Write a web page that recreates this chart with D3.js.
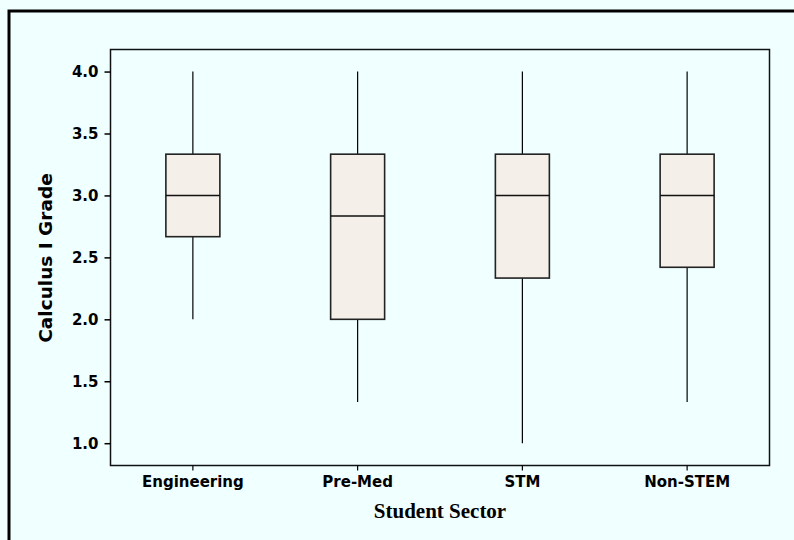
<!DOCTYPE html>
<html>
<head>
<meta charset="utf-8">
<script src="https://cdn.jsdelivr.net/npm/d3@7"></script>
<style>
  body { margin: 0; background: #F0FFFF; }
  .tick text { font-family: "DejaVu Sans", Verdana, sans-serif; font-weight: bold; font-size: 15px; fill: #000; }
</style>
</head>
<body>
<svg id="chart" width="794" height="540"></svg>
<script>
var categories = ["Engineering", "Pre-Med", "STM", "Non-STEM"];
var whiskerLow = [2.0, 1.333, 1.0, 1.333];
var q1 = [2.667, 2.0, 2.333, 2.42];
var median = [3.0, 2.833, 3.0, 3.0];
var q3 = [3.333, 3.333, 3.333, 3.333];
var whiskerHigh = [4.0, 4.0, 4.0, 4.0];
var yTicks = [1.0, 1.5, 2.0, 2.5, 3.0, 3.5, 4.0];

var svg = d3.select("#chart"),
	margin = {top: 49.5, left: 110.5, bottom: 74.5, right: 24.5},
	width = +svg.attr("width"),
	height = +svg.attr("height");

svg.append("rect")
	.attr("width", width).attr("height", height)
	.attr("fill", "#F0FFFF");

// outer frame (cropped on right & bottom)
svg.append("rect")
	.attr("x", 9).attr("y", 11)
	.attr("width", 820).attr("height", 600)
	.attr("fill", "none")
	.attr("stroke", "#000")
	.attr("stroke-width", 3);

var x = d3.scaleBand()
	.domain(categories)
	.range([margin.left, width - margin.right])
	.padding(0);

var y = d3.scaleLinear()
	.domain([0.82, 4.178])
	.range([height - margin.bottom, margin.top]);

var data = categories.map((c, i) => ({
	cat: c, lo: whiskerLow[i], q1: q1[i], med: median[i], q3: q3[i], hi: whiskerHigh[i]
}));

var boxW = 54;

var g = svg.selectAll("g.box")
	.data(data)
	.enter().append("g")
	.attr("class", "box")
	.attr("transform", d => `translate(${x(d.cat) + x.bandwidth() / 2},0)`);

// whiskers
g.append("line")
	.attr("x1", 0).attr("x2", 0)
	.attr("y1", d => y(d.hi)).attr("y2", d => y(d.q3))
	.attr("stroke", "#000").attr("stroke-width", 1.2);
g.append("line")
	.attr("x1", 0).attr("x2", 0)
	.attr("y1", d => y(d.q1)).attr("y2", d => y(d.lo))
	.attr("stroke", "#000").attr("stroke-width", 1.2);

g.append("rect")
	.attr("x", -boxW / 2)
	.attr("width", boxW)
	.attr("y", d => y(d.q3))
	.attr("height", d => y(d.q1) - y(d.q3))
	.attr("fill", "#F4EFE8")
	.attr("stroke", "#222")
	.attr("stroke-width", 1.6);

g.append("line")
	.attr("x1", -boxW / 2).attr("x2", boxW / 2)
	.attr("y1", d => y(d.med)).attr("y2", d => y(d.med))
	.attr("stroke", "#111").attr("stroke-width", 1.5);

// plot frame
svg.append("rect")
	.attr("x", margin.left).attr("y", margin.top)
	.attr("width", width - margin.right - margin.left)
	.attr("height", height - margin.bottom - margin.top)
	.attr("fill", "none")
	.attr("stroke", "#111")
	.attr("stroke-width", 1.5);

var yAxis = svg.append("g")
	.attr("transform", `translate(${margin.left},0)`)
	.call(d3.axisLeft(y).tickValues(yTicks).tickFormat(d3.format(".1f")).tickSize(6).tickPadding(6));
yAxis.select(".domain").remove();
yAxis.selectAll(".tick line").attr("stroke", "#000").attr("stroke-width", 1.5);

var xAxis = svg.append("g")
	.attr("transform", `translate(0,${height - margin.bottom})`)
	.call(d3.axisBottom(x).tickSize(5).tickPadding(6));
xAxis.select(".domain").remove();
xAxis.selectAll(".tick line").attr("stroke", "#000").attr("stroke-width", 1.2);

svg.append("text")
	.attr("x", (margin.left + width - margin.right) / 2)
	.attr("y", 518)
	.attr("text-anchor", "middle")
	.style("font-family", "'Liberation Serif', 'Times New Roman', serif")
	.style("font-weight", "bold")
	.style("font-size", "21px")
	.text("Student Sector");

svg.append("text")
	.attr("transform", "translate(52,258) rotate(-90)")
	.attr("text-anchor", "middle")
	.style("font-family", "'DejaVu Sans', Verdana, sans-serif")
	.style("font-weight", "bold")
	.style("font-size", "18.5px")
	.text("Calculus I Grade");
</script>
</body>
</html>
